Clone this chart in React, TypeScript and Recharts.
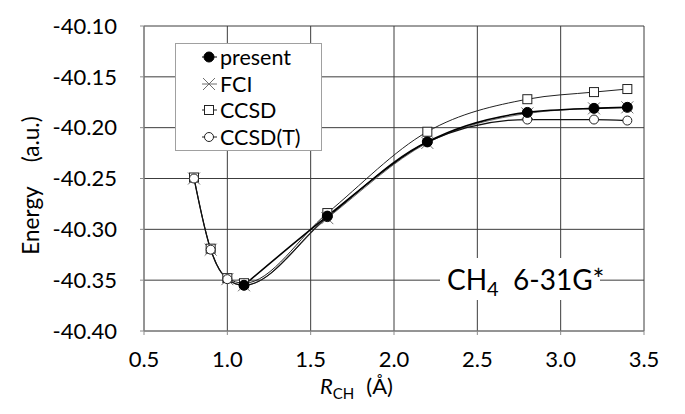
import React from 'react';
import { LineChart, Line, XAxis, YAxis, CartesianGrid, Legend, Label } from 'recharts';

const rCH = [0.8, 0.9, 1.0, 1.1, 1.6, 2.2, 2.8, 3.2, 3.4];
const present = [null, null, null, -40.355, -40.287, -40.214, -40.185, -40.181, -40.180];
const fci = [-40.250, -40.320, -40.349, -40.355, -40.289, -40.215, -40.186, -40.181, -40.180];
const ccsd = [-40.249, -40.319, -40.348, -40.353, -40.284, -40.204, -40.172, -40.165, -40.162];
const ccsdT = [-40.250, -40.320, -40.349, -40.355, -40.288, -40.214, -40.192, -40.192, -40.193];

const xTicks = [0.5, 1.0, 1.5, 2.0, 2.5, 3.0, 3.5];
const yTicks = [-40.4, -40.35, -40.3, -40.25, -40.2, -40.15, -40.1];

const data = rCH.map((r, i) => ({ r, present: present[i], fci: fci[i], ccsd: ccsd[i], ccsdT: ccsdT[i] }));

const FONT = 'Lato, "Open Sans", sans-serif';

// marker shapes
const Filled = (p: any) => p.cx == null || p.value == null ? null : <circle cx={p.cx} cy={p.cy} r={5} fill="#000" stroke="#000" />;
const Cross = (p: any) => p.cx == null ? null : (
  <g stroke="#6e6e6e" strokeWidth={1}>
    <line x1={p.cx - 6} y1={p.cy - 6} x2={p.cx + 6} y2={p.cy + 6} />
    <line x1={p.cx - 6} y1={p.cy + 6} x2={p.cx + 6} y2={p.cy - 6} />
  </g>
);
const Square = (p: any) => p.cx == null ? null : <rect x={p.cx - 4.5} y={p.cy - 4.5} width={9} height={9} fill="#fff" stroke="#222" strokeWidth={1} />;
const Ring = (p: any) => p.cx == null ? null : <circle cx={p.cx} cy={p.cy} r={4.5} fill="#fff" stroke="#222" strokeWidth={1} />;

const series = [
  { key: 'present', name: 'present', color: '#000', dot: Filled },
  { key: 'fci', name: 'FCI', color: '#6e6e6e', dot: Cross },
  { key: 'ccsd', name: 'CCSD', color: '#222', dot: Square },
  { key: 'ccsdT', name: 'CCSD(T)', color: '#222', dot: Ring },
];

const LegendBox = () => (
  <div style={{ width: 147, height: 108, border: '1px solid #a0a0a0', background: '#fff', boxSizing: 'border-box', fontFamily: FONT, fontSize: 21.5, color: '#000' }}>
    {series.map((s) => {
      const Dot = s.dot;
      return (
        <div key={s.key} style={{ height: 26.5, display: 'flex', alignItems: 'center' }}>
          <svg width={44} height={20} style={{ flex: 'none' }}>
            <line x1={26} y1={10} x2={41} y2={10} stroke={s.color} strokeWidth={1} />
            <Dot cx={33} cy={10} value={1} />
          </svg>
          <span style={{ lineHeight: '20px' }}>{s.name}</span>
        </div>
      );
    })}
  </div>
);

export default function App() {
  return (
    <div style={{ position: 'absolute', left: 0, top: 0, width: 685, height: 414, background: '#fff' }}>
      <LineChart width={685} height={414} data={data} margin={{ top: 26, right: 41, bottom: 0, left: 0 }}>
        <CartesianGrid stroke="#3c3c3c" strokeWidth={1} />
        <XAxis
          dataKey="r" type="number" domain={[0.5, 3.5]} ticks={xTicks} height={83}
          tickFormatter={(v: number) => v.toFixed(1)}
          tick={{ fill: '#000', fontSize: 22, fontFamily: FONT }}
          tickSize={4} tickMargin={16} stroke="#8c8c8c" allowDataOverflow
        >
          <Label content={(props: any) => {
            const vb = props.viewBox || {};
            const x0 = vb.x + vb.width / 2 - 74;
            return (
              <text x={x0} y={394} fontFamily={FONT} fontSize={22} fill="#000">
                <tspan fontStyle="italic">R</tspan>
                <tspan fontSize={15} dy={5}>CH</tspan>
                <tspan dy={-5} dx={12}>(Å)</tspan>
              </text>
            );
          }} />
        </XAxis>
        <YAxis
          type="number" domain={[-40.4, -40.1]} ticks={yTicks} width={144}
          tickFormatter={(v: number) => v.toFixed(2)}
          tick={{ fill: '#000', fontSize: 22, fontFamily: FONT }}
          tickSize={4} tickMargin={23} stroke="#8c8c8c" allowDataOverflow
        >
          <Label content={(props: any) => {
            const vb = props.viewBox || {};
            const cy = vb.y + vb.height / 2 + 7;
            return (
              <text x={39} y={cy} transform={`rotate(-90 39 ${cy})`} textAnchor="middle" fontFamily={FONT} fontSize={22.5} fill="#000">
                <tspan>Energy</tspan>
                <tspan dx={24}>(a.u.)</tspan>
              </text>
            );
          }} />
        </YAxis>
        <Legend
          layout="vertical" align="center" verticalAlign="middle"
          wrapperStyle={{ position: 'absolute', left: 175, top: 43, width: 147, height: 108 }}
          content={() => <LegendBox />}
        />
        <Line dataKey="fci" name="FCI" type="monotone" stroke="#6e6e6e" strokeWidth={1} dot={<Cross />} activeDot={false} isAnimationActive={false} />
        <Line dataKey="ccsd" name="CCSD" type="monotone" stroke="#222" strokeWidth={1} dot={<Square />} activeDot={false} isAnimationActive={false} />
        <Line dataKey="ccsdT" name="CCSD(T)" type="monotone" stroke="#111" strokeWidth={1.2} dot={<Ring />} activeDot={false} isAnimationActive={false} />
        <Line dataKey="present" name="present" type="monotone" stroke="#000" strokeWidth={1.6} dot={<Filled />} activeDot={false} isAnimationActive={false} />
      </LineChart>
      <div style={{ position: 'absolute', left: 440, top: 258, width: 160, height: 42, background: '#fff', fontFamily: FONT, fontSize: 28, color: '#000', whiteSpace: 'pre', lineHeight: '42px', paddingLeft: 7, boxSizing: 'border-box' }}>
        CH<span style={{ fontSize: 20, position: 'relative', top: 6 }}>4</span>  6-31G*
      </div>
    </div>
  );
}
